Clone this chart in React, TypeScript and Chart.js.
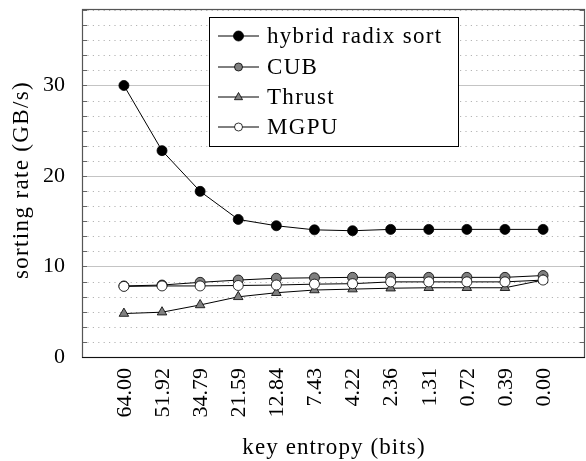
import React, { useEffect, useRef } from "react";
import { Chart, registerables } from "chart.js";

Chart.register(...registerables);

const xLabels = ["64.00", "51.92", "34.79", "21.59", "12.84", "7.43", "4.22", "2.36", "1.31", "0.72", "0.39", "0.00"];
const hybrid = [30.0, 22.8, 18.3, 15.2, 14.5, 14.05, 13.95, 14.1, 14.1, 14.1, 14.1, 14.1];
const cub = [7.85, 7.95, 8.25, 8.5, 8.7, 8.75, 8.8, 8.8, 8.8, 8.8, 8.8, 9.0];
const thrust = [4.8, 4.95, 5.75, 6.65, 7.1, 7.4, 7.5, 7.6, 7.65, 7.65, 7.65, 8.5];
const mgpu = [7.8, 7.85, 7.85, 7.9, 7.95, 8.05, 8.1, 8.3, 8.3, 8.3, 8.3, 8.5];
const yLabelTicks = [0, 10, 20, 30];
const seriesNames = ["hybrid radix sort", "CUB", "Thrust", "MGPU"];
const xTitle = "key entropy (bits)";
const yTitle = "sorting rate (GB/s)";

const FONT = "'Liberation Serif', 'Times New Roman', serif";

function pts(arr: number[]) {
  return arr.map((v, i) => ({ x: i, y: v }));
}

const gridPlugin = {
  id: "gridPlugin",
  beforeDatasetsDraw(chart: any) {
    const { ctx, chartArea } = chart;
    const ys = chart.scales.y;
    const { left, right } = chartArea;
    ctx.save();
    const step = 10 / 6;
    for (let k = 1; k * step <= ys.max + 1e-6; k++) {
      const v = k * step;
      const y = Math.round(ys.getPixelForValue(v)) + 0.5;
      const major = k % 6 === 0;
      ctx.beginPath();
      if (major) {
        ctx.setLineDash([]);
        ctx.strokeStyle = "#c4c4c4";
        ctx.lineWidth = 1;
      } else {
        ctx.setLineDash([1.2, 4.2]);
        ctx.strokeStyle = "#b4b4b4";
        ctx.lineWidth = 1;
      }
      ctx.moveTo(left, y);
      ctx.lineTo(right, y);
      ctx.stroke();
      ctx.setLineDash([]);
      ctx.strokeStyle = "#666";
      ctx.beginPath();
      ctx.moveTo(left, y);
      ctx.lineTo(left + 5, y);
      ctx.moveTo(right, y);
      ctx.lineTo(right - 5, y);
      ctx.stroke();
    }
    ctx.restore();
  },
  afterDraw(chart: any) {
    const { ctx, chartArea } = chart;
    const xs = chart.scales.x;
    const { left, right, top, bottom } = chartArea;
    ctx.save();
    // frame
    ctx.strokeStyle = "#555";
    ctx.lineWidth = 1.2;
    ctx.strokeRect(Math.round(left) + 0.5, Math.round(top) + 0.5, Math.round(right - left) - 1, Math.round(bottom - top));
    ctx.strokeStyle = "#111";
    ctx.beginPath();
    ctx.moveTo(left, Math.round(bottom) + 0.5);
    ctx.lineTo(right, Math.round(bottom) + 0.5);
    ctx.stroke();

    // x tick labels (rotated)
    ctx.fillStyle = "#000";
    ctx.font = `22px ${FONT}`;
    xLabels.forEach((lab, i) => {
      const x = xs.getPixelForValue(i);
      ctx.save();
      ctx.translate(x, bottom + 11);
      ctx.rotate(-Math.PI / 2);
      ctx.textAlign = "right";
      ctx.textBaseline = "middle";
      ctx.fillText(lab, 0, 1);
      ctx.restore();
    });

    // axis titles
    ctx.fillStyle = "#000";
    ctx.font = `23px ${FONT}`;
    ctx.textAlign = "center";
    ctx.textBaseline = "alphabetic";
    (ctx as any).letterSpacing = "1.1px";
    ctx.fillText(xTitle, 334, 454);
    ctx.save();
    ctx.translate(28, 180);
    ctx.rotate(-Math.PI / 2);
    (ctx as any).letterSpacing = "1.35px";
    ctx.fillText(yTitle, 0, 0);
    ctx.restore();

    // legend
    const bx = 209.5, by = 17.5, bw = 249, bh = 129;
    ctx.fillStyle = "#fff";
    ctx.fillRect(bx, by, bw, bh);
    ctx.strokeStyle = "#000";
    ctx.lineWidth = 1;
    ctx.strokeRect(bx, by, bw, bh);
    const rowY = [36, 67, 97, 127];
    const radii = [5, 4, 4.5, 4];
    chart.data.datasets.forEach((ds: any, i: number) => {
      const y = rowY[i];
      ctx.strokeStyle = "#000";
      ctx.lineWidth = 1;
      ctx.beginPath();
      ctx.moveTo(218, y);
      ctx.lineTo(259, y);
      ctx.stroke();
      ctx.fillStyle = ds.pointBackgroundColor;
      ctx.strokeStyle = "#000";
      ctx.lineWidth = 0.8;
      const cx = 238.5;
      const r = radii[i];
      ctx.beginPath();
      if (ds.pointStyle === "triangle") {
        ctx.moveTo(cx, y - r);
        ctx.lineTo(cx + r * 0.9, y + r * 0.6);
        ctx.lineTo(cx - r * 0.9, y + r * 0.6);
        ctx.closePath();
      } else {
        ctx.arc(cx, y, r, 0, Math.PI * 2);
      }
      ctx.fill();
      ctx.stroke();
      ctx.fillStyle = "#000";
      ctx.font = `23px ${FONT}`;
      ctx.textBaseline = "alphabetic";
      ctx.textAlign = "left";
      (ctx as any).letterSpacing = "1.3px";
      ctx.fillText(ds.label, 267, y + 7);
    });
    (ctx as any).letterSpacing = "0px";
    ctx.restore();
  },
};

export default function App() {
  const ref = useRef<HTMLCanvasElement | null>(null);
  useEffect(() => {
    if (!ref.current) return;
    const common = {
      borderColor: "#000",
      borderWidth: 1,
      pointBorderColor: "#000",
      pointBorderWidth: 0.8,
      pointRadius: 5,
      tension: 0,
      showLine: true,
      fill: false,
    };
    const chart = new Chart(ref.current, {
      type: "line",
      data: {
        datasets: [
          { ...common, label: seriesNames[0], data: pts(hybrid), pointBackgroundColor: "#000", pointStyle: "circle", order: 4 },
          { ...common, label: seriesNames[1], data: pts(cub), pointBackgroundColor: "#808080", pointStyle: "circle", order: 3 },
          { ...common, label: seriesNames[2], data: pts(thrust), pointBackgroundColor: "#808080", pointStyle: "triangle", pointRadius: 5.5, order: 2 },
          { ...common, label: seriesNames[3], data: pts(mgpu), pointBackgroundColor: "#fff", pointStyle: "circle", order: 1 },
        ] as any,
      },
      options: {
        animation: false,
        responsive: false,
        devicePixelRatio: 1,
        layout: { autoPadding: false, padding: { left: 0, top: 9, right: 1, bottom: 0 } },
        plugins: { legend: { display: false }, tooltip: { enabled: false } },
        scales: {
          x: {
            type: "linear",
            min: -1.1,
            max: 12.1,
            afterBuildTicks: (s: any) => {
              s.ticks = xLabels.map((_, i) => ({ value: i }));
            },
            afterFit: (s: any) => {
              s.height = 104;
              s.paddingLeft = 0;
              s.paddingRight = 0;
            },
            ticks: { display: false },
            grid: { display: false },
            border: { display: false },
          },
          y: {
            type: "linear",
            min: 0,
            max: 38.45,
            afterBuildTicks: (s: any) => {
              s.ticks = yLabelTicks.map((v) => ({ value: v }));
            },
            afterFit: (s: any) => {
              s.width = 82;
              s.paddingTop = 0;
              s.paddingBottom = 0;
            },
            ticks: {
              padding: 9,
              color: "#000",
              font: { family: FONT, size: 22 },
            },
            grid: { display: false },
            border: { display: false },
          },
        },
      },
      plugins: [gridPlugin],
    } as any);
    return () => chart.destroy();
  }, []);
  return (
    <div style={{ position: "absolute", left: 0, top: 0, width: 586, height: 461, background: "#fff" }}>
      <canvas ref={ref} width={586} height={461} style={{ width: 586, height: 461, display: "block" }} />
    </div>
  );
}
